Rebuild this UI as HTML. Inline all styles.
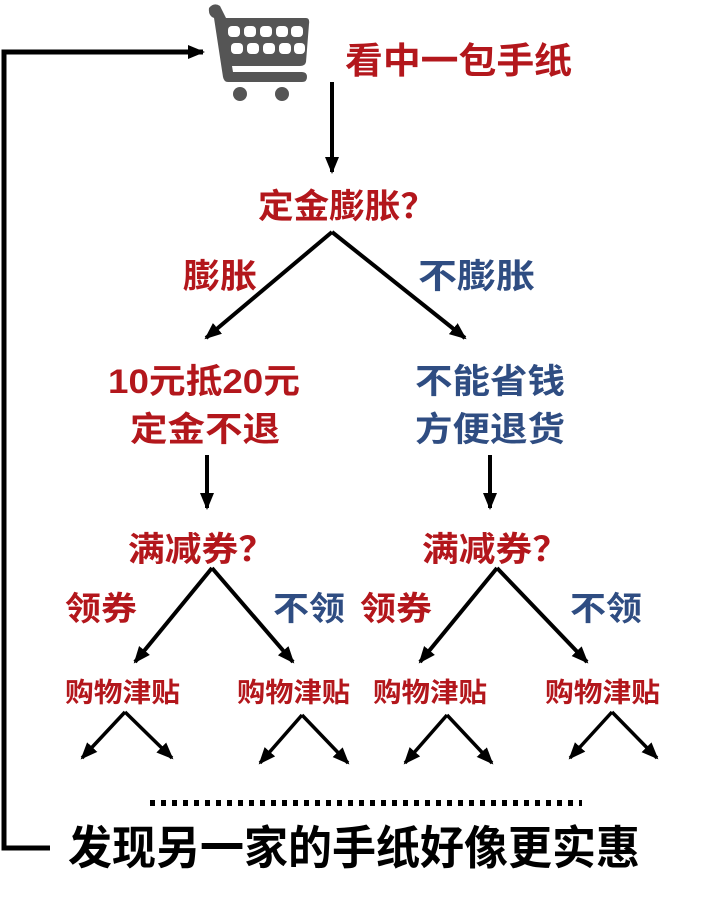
<!DOCTYPE html>
<html><head><meta charset="utf-8"><style>
html,body{margin:0;padding:0;background:#fff;}
svg{display:block}
text{font-family:"Liberation Sans","Noto Sans CJK SC",sans-serif;font-weight:bold;}
.r{fill:#b3171c}.b{fill:#2f4d82}
</style></head><body>
<svg width="720" height="901" viewBox="0 0 720 901" xmlns="http://www.w3.org/2000/svg">
<defs><marker id="a" markerWidth="18" markerHeight="18" refX="15" refY="9" orient="auto" markerUnits="userSpaceOnUse"><path d="M0,2 L17,9 L0,16 Z" fill="#000"/></marker></defs>
<g stroke="#000" stroke-width="4" fill="none">
<polyline points="50,848 4,848 4,52 203,52" marker-end="url(#a)" stroke-width="5"/>
<line x1="332" y1="82" x2="332" y2="172" marker-end="url(#a)"/>
<line x1="332" y1="232" x2="206" y2="338" marker-end="url(#a)"/>
<line x1="332" y1="232" x2="465" y2="338" marker-end="url(#a)"/>
<line x1="207" y1="455" x2="207" y2="508" marker-end="url(#a)"/>
<line x1="490" y1="455" x2="490" y2="508" marker-end="url(#a)"/>
<line x1="212" y1="568" x2="135" y2="662" marker-end="url(#a)"/>
<line x1="212" y1="568" x2="293" y2="662" marker-end="url(#a)"/>
<line x1="497" y1="568" x2="420" y2="662" marker-end="url(#a)"/>
<line x1="497" y1="568" x2="587" y2="662" marker-end="url(#a)"/>
<g stroke-width="3.5">
<line x1="125" y1="712" x2="82" y2="758" marker-end="url(#a)"/>
<line x1="125" y1="712" x2="172" y2="758" marker-end="url(#a)"/>
<line x1="302" y1="715" x2="260" y2="763" marker-end="url(#a)"/>
<line x1="302" y1="715" x2="348" y2="763" marker-end="url(#a)"/>
<line x1="447" y1="715" x2="405" y2="763" marker-end="url(#a)"/>
<line x1="447" y1="715" x2="492" y2="763" marker-end="url(#a)"/>
<line x1="612" y1="712" x2="570" y2="758" marker-end="url(#a)"/>
<line x1="612" y1="712" x2="657" y2="758" marker-end="url(#a)"/>
</g>
<line x1="150" y1="803" x2="582" y2="803" stroke-width="6" stroke-dasharray="5,6"/>
</g>
<!-- cart -->
<g fill="#555">
<path d="M209,8 Q214,2 220,6 L226,18 L306,18 Q310,18 309,24 L306,62 Q305,66 300,66 L232,66 L233,72 L302,72 Q307,72 307,77 Q307,82 302,82 L228,82 Q224,82 223,77 L214,18 Q208,16 209,8 Z"/>
<circle cx="240" cy="94" r="7"/><circle cx="282" cy="94" r="7"/>
</g>
<g fill="#fff">
<rect x="228" y="26" width="12" height="11" rx="4"/><rect x="244" y="26" width="12" height="11" rx="4"/><rect x="260" y="26" width="12" height="11" rx="4"/><rect x="276" y="26" width="12" height="11" rx="4"/><rect x="291" y="26" width="12" height="11" rx="4"/>
<rect x="231" y="43" width="12" height="11" rx="4"/><rect x="247" y="43" width="12" height="11" rx="4"/><rect x="263" y="43" width="12" height="11" rx="4"/><rect x="279" y="43" width="12" height="11" rx="4"/><rect x="294" y="43" width="11" height="11" rx="4"/>
</g>
<g>
<text x="345" y="73" font-size="36" class="r" textLength="227" lengthAdjust="spacingAndGlyphs">看中一包手纸</text>
<text x="258" y="218" font-size="34" class="r" textLength="178" lengthAdjust="spacingAndGlyphs">定金膨胀？</text>
<text x="183" y="288" font-size="34" class="r" textLength="74" lengthAdjust="spacingAndGlyphs">膨胀</text>
<text x="418" y="288" font-size="34" class="b" textLength="117" lengthAdjust="spacingAndGlyphs">不膨胀</text>
<text x="108" y="393" font-size="34" class="r" textLength="192" lengthAdjust="spacingAndGlyphs">10元抵20元</text>
<text x="130" y="441" font-size="34" class="r" textLength="150" lengthAdjust="spacingAndGlyphs">定金不退</text>
<text x="415" y="393" font-size="34" class="b" textLength="150" lengthAdjust="spacingAndGlyphs">不能省钱</text>
<text x="415" y="441" font-size="34" class="b" textLength="150" lengthAdjust="spacingAndGlyphs">方便退货</text>
<text x="128" y="561" font-size="34" class="r" textLength="147" lengthAdjust="spacingAndGlyphs">满减券？</text>
<text x="422" y="561" font-size="34" class="r" textLength="147" lengthAdjust="spacingAndGlyphs">满减券？</text>
<text x="65" y="620" font-size="33" class="r" textLength="72" lengthAdjust="spacingAndGlyphs">领券</text>
<text x="273" y="620" font-size="33" class="b" textLength="72" lengthAdjust="spacingAndGlyphs">不领</text>
<text x="360" y="620" font-size="33" class="r" textLength="72" lengthAdjust="spacingAndGlyphs">领券</text>
<text x="570" y="620" font-size="33" class="b" textLength="72" lengthAdjust="spacingAndGlyphs">不领</text>
<text x="65" y="702" font-size="27" class="r" textLength="115" lengthAdjust="spacingAndGlyphs">购物津贴</text>
<text x="237" y="702" font-size="27" class="r" textLength="113" lengthAdjust="spacingAndGlyphs">购物津贴</text>
<text x="373" y="702" font-size="27" class="r" textLength="114" lengthAdjust="spacingAndGlyphs">购物津贴</text>
<text x="545" y="702" font-size="27" class="r" textLength="115" lengthAdjust="spacingAndGlyphs">购物津贴</text>
<text x="68" y="864" font-size="46" fill="#000" textLength="572" lengthAdjust="spacingAndGlyphs">发现另一家的手纸好像更实惠</text>
</g>
</svg>
</body></html>
